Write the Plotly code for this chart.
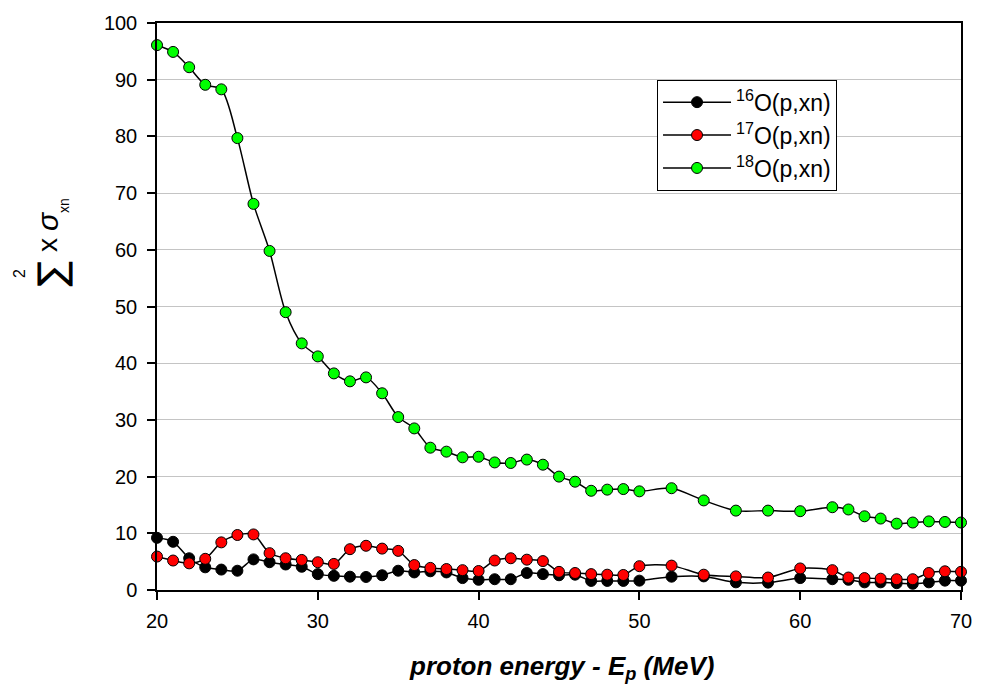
import plotly.graph_objects as go

energy = [20, 21, 22, 23, 24, 25, 26, 27, 28, 29, 30, 31, 32, 33, 34, 35, 36, 37, 38, 39, 40,
          41, 42, 43, 44, 45, 46, 47, 48, 49, 50, 52, 54, 56, 58, 60, 62, 63, 64, 65, 66, 67,
          68, 69, 70]

o16 = [9.2, 8.5, 5.6, 4.0, 3.6, 3.4, 5.4, 4.9, 4.5, 4.1, 2.8, 2.5, 2.35, 2.3, 2.6, 3.4, 3.1,
       3.3, 3.1, 2.1, 1.8, 1.9, 1.9, 3.0, 2.8, 2.6, 2.7, 1.6, 1.6, 1.6, 1.65, 2.35, 2.4, 1.35,
       1.3, 2.1, 1.9, 1.8, 1.35, 1.35, 1.2, 1.1, 1.35, 1.65, 1.65]

o17 = [5.9, 5.2, 4.7, 5.5, 8.4, 9.7, 9.8, 6.5, 5.6, 5.3, 4.9, 4.6, 7.2, 7.8, 7.3, 6.9, 4.4,
       3.9, 3.7, 3.5, 3.35, 5.2, 5.6, 5.35, 5.1, 3.2, 3.0, 2.8, 2.7, 2.65, 4.2, 4.3, 2.7, 2.4,
       2.2, 3.8, 3.5, 2.2, 2.1, 2.0, 1.9, 1.9, 3.0, 3.3, 3.2]

o18 = [96.1, 94.9, 92.2, 89.1, 88.3, 79.7, 68.1, 59.8, 49.0, 43.5, 41.2, 38.2, 36.8, 37.5,
       34.7, 30.5, 28.5, 25.1, 24.4, 23.4, 23.5, 22.5, 22.4, 23.0, 22.1, 20.0, 19.1, 17.5,
       17.7, 17.8, 17.4, 17.95, 15.8, 14.0, 14.0, 13.9, 14.6, 14.2, 13.0, 12.6, 11.7, 11.9,
       12.1, 12.0, 11.9]

series_names = ["<sup>16</sup>O(p,xn)", "<sup>17</sup>O(p,xn)", "<sup>18</sup>O(p,xn)"]
series_values = [o16, o17, o18]
series_colors = ["#000000", "#ff0000", "#00ff00"]

x_ticks = [20, 30, 40, 50, 60, 70]
y_ticks = [0, 10, 20, 30, 40, 50, 60, 70, 80, 90, 100]

FONT = "Arial, Liberation Sans, sans-serif"

fig = go.Figure()
for name, vals, col in zip(series_names, series_values, series_colors):
    fig.add_trace(go.Scatter(
        x=energy, y=vals, name=name, mode="lines+markers",
        line=dict(color="black", width=1.5, shape="spline", smoothing=0.8),
        marker=dict(color=col, size=11, line=dict(color="black", width=1)),
        cliponaxis=False,
    ))

fig.update_layout(
    width=984, height=688,
    margin=dict(l=157, r=15, t=20, b=98),
    paper_bgcolor="white", plot_bgcolor="white",
    font=dict(family=FONT, size=20, color="black"),
    showlegend=True,
    legend=dict(
        x=(662 - 157) / 812, y=(590 - 77) / 570, xanchor="left", yanchor="top",
        bordercolor="black", borderwidth=1, bgcolor="white",
        font=dict(family=FONT, size=23, color="black"),
        tracegroupgap=0, itemwidth=68,
    ),
    xaxis=dict(
        range=[20, 70], tickvals=x_ticks, ticks="outside", ticklen=8, tickwidth=1.5,
        tickcolor="black", showgrid=False, zeroline=False,
        showline=True, linecolor="black", linewidth=1.5, mirror=True,
        tickfont=dict(family=FONT, size=20), ticklabelstandoff=4,
    ),
    yaxis=dict(
        range=[0, 100], tickvals=y_ticks, ticks="outside", ticklen=8, tickwidth=1.5,
        tickcolor="black", showgrid=True, gridcolor="#c4c4c4", gridwidth=1, zeroline=False,
        showline=True, linecolor="black", linewidth=1.5, mirror=True,
        tickfont=dict(family=FONT, size=20), ticklabelstandoff=6,
    ),
)

# x-axis title
fig.add_annotation(
    text="<b><i>proton energy - E<sub>p</sub> (MeV)</i></b>",
    xref="paper", yref="paper", x=(566 - 157) / 812, y=(590 - 668) / 570,
    xanchor="center", yanchor="middle", showarrow=False,
    font=dict(family=FONT, size=26, color="black"),
)

# y-axis title pieces (rotated)
def ypos(py):
    return (590 - py) / 570

def xpos(px):
    return (px - 157) / 812

fig.add_annotation(text="∑", xref="paper", yref="paper", x=xpos(51), y=ypos(272),
                   xanchor="center", yanchor="middle", showarrow=False, textangle=-90,
                   font=dict(family="DejaVu Sans", size=38, color="black"))
fig.add_annotation(text="2", xref="paper", yref="paper", x=xpos(18), y=ypos(272),
                   xanchor="center", yanchor="middle", showarrow=False, textangle=-90,
                   font=dict(family=FONT, size=16, color="black"))
fig.add_annotation(text="x", xref="paper", yref="paper", x=xpos(47), y=ypos(243),
                   xanchor="center", yanchor="middle", showarrow=False, textangle=-90,
                   font=dict(family=FONT, size=28, color="black"))
fig.add_annotation(text="<i>σ</i>", xref="paper", yref="paper", x=xpos(47), y=ypos(219),
                   xanchor="center", yanchor="middle", showarrow=False, textangle=-90,
                   font=dict(family=FONT, size=30, color="black"))
fig.add_annotation(text="xn", xref="paper", yref="paper", x=xpos(63), y=ypos(203),
                   xanchor="center", yanchor="middle", showarrow=False, textangle=-90,
                   font=dict(family=FONT, size=14, color="black"))

fig.write_html("out.html")
